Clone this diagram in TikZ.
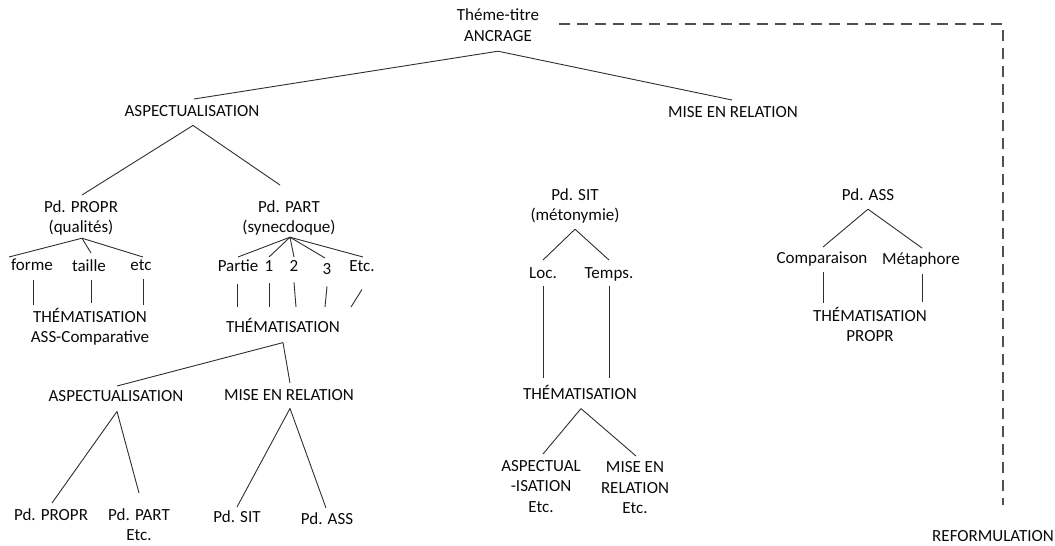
\documentclass[tikz,border=0pt]{standalone}
\usepackage{fontspec}
\setmainfont{Carlito}
\usetikzlibrary{calc}
\definecolor{txtc}{HTML}{0A0A0A}
\definecolor{linec}{HTML}{2E2E2E}
\definecolor{dashc}{HTML}{505050}
\newcommand\st{\rule[-4pt]{0pt}{15pt}}
\tikzset{
  lbl/.style={anchor=north, inner sep=0pt, align=center,
    font=\fontsize{17}{20.5}\selectfont, text=txtc},
  conn/.style={draw=linec, line width=0.9pt},
  dashline/.style={draw=dashc, line width=2.8pt, dash pattern=on 11.5pt off 6.5pt}
}
\begin{document}
\begin{tikzpicture}[x=1pt,y=-1pt]
\useasboundingbox (0,0) rectangle (1055,546);

% ---- nodes (placed by top of first line) ----
\node[lbl] (root)  at (498,8.5)  {\st Théme-titre\\\st ANCRAGE};
\node[lbl] (asp)   at (192,105)  {\st ASPECTUALISATION};
\node[lbl] (mer)   at (733,106)  {\st MISE EN RELATION};

\node[lbl] (propr) at (81,200)   {\st Pd. PROPR\\\st (qualités)};
\node[lbl] (part)  at (289,200)  {\st Pd. PART\\\st (synecdoque)};

\node[lbl] (forme) at (32,259)   {\st forme};
\node[lbl] (taille) at (89,259)  {\st taille};
\node[lbl] (etc)   at (141,259)  {\st etc};

\node[lbl] (partie) at (238,260) {\st Partie};
\node[lbl] (n1)    at (269,260)  {\st 1};
\node[lbl] (n2)    at (294,260)  {\st 2};
\node[lbl] (n3)    at (327,263)  {\st 3};
\node[lbl] (etcp)  at (362,260)  {\st Etc.};

\node[lbl] (them1) at (90,308)   {\st THÉMATISATION\\\st ASS-Comparative};
\node[lbl] (them2) at (283,318.5){\st THÉMATISATION};

\node[lbl] (asp2)  at (116,390)  {\st ASPECTUALISATION};
\node[lbl] (mer2)  at (289,389)  {\st MISE EN RELATION};

\node[lbl] (pp)    at (51,508)   {\st Pd. PROPR};
\node[lbl] (ppart) at (139,508)  {\st Pd. PART\\\st Etc.};
\node[lbl] (psit)  at (237,510)  {\st Pd. SIT};
\node[lbl] (pass)  at (327,512)  {\st Pd. ASS};

\node[lbl] (sit)   at (575,188)  {\st Pd. SIT\\\st (métonymie)};
\node[lbl] (loc)   at (543,267)  {\st Loc.};
\node[lbl] (temps) at (609,267)  {\st Temps.};
\node[lbl] (them3) at (580,385)  {\st THÉMATISATION};
\node[lbl] (aspi)  at (541,460)  {\st ASPECTUAL\\\st -ISATION\\\st Etc.};
\node[lbl] (meri)  at (635,461.5){\st MISE EN\\\st RELATION\\\st Etc.};

\node[lbl] (ass)   at (868,188)  {\st Pd. ASS};
\node[lbl] (comp)  at (822,252)  {\st Comparaison};
\node[lbl] (meta)  at (921,252)  {\st Métaphore};
\node[lbl] (them4) at (870,307)  {\st THÉMATISATION\\\st PROPR};

\node[lbl] (reform) at (993,530) {\st REFORMULATION};

% ---- connectors ----
\draw[conn] ($(root.south)+(0,6)$) -- ($(asp.north)+(2,-6)$);
\draw[conn] ($(root.south)+(0,6)$) -- ($(mer.north)+(-1,-6)$);

\draw[conn] ($(asp.south)+(1,5)$) -- ($(propr.north)+(1,-5)$);
\draw[conn] ($(asp.south)+(1,5)$) -- ($(part.north)+(-9,-15)$);

\draw[conn] ($(propr.south)+(1,1.5)$) -- ($(forme.north)+(-23,-2)$);
\draw[conn] ($(propr.south)+(1,1.5)$) -- ($(taille.north)+(2,-6)$);
\draw[conn] ($(propr.south)+(1,1.5)$) -- ($(etc.north)+(2,-2)$);

\draw[conn] ($(forme.south)+(1,5)$)  -- ($(them1.north)+(-57,-3)$);
\draw[conn] ($(taille.south)+(2,5)$) -- ($(them1.north)+(1,-5)$);
\draw[conn] ($(etc.south)+(2,5)$)    -- ($(them1.north)+(53,-3)$);

\draw[conn] ($(part.south)+(1,0.5)$) -- ($(partie.north)+(0,-3)$);
\draw[conn] ($(part.south)+(1,0.5)$) -- ($(n1.north)+(0,-3)$);
\draw[conn] ($(part.south)+(1,0.5)$) -- ($(n2.north)+(0,-3)$);
\draw[conn] ($(part.south)+(1,0.5)$) -- ($(n3.north)+(-2,-5)$);
\draw[conn] ($(part.south)+(1,0.5)$) -- ($(etcp.north)+(1,-3)$);

\draw[conn] ($(partie.south)+(-1,8)$) -- ($(them2.north)+(-46,-11.5)$);
\draw[conn] ($(n1.south)+(0,8)$)      -- ($(them2.north)+(-14,-11.5)$);
\draw[conn] ($(n2.south)+(0,7)$)      -- ($(them2.north)+(13,-11.5)$);
\draw[conn] ($(n3.south)+(0,8)$)      -- ($(them2.north)+(42,-11.5)$);
\draw[conn] ($(etcp.south)+(0,14)$)   -- ($(them2.north)+(68,-11.5)$);

\draw[conn] ($(them2.south)+(0,5.5)$) -- ($(asp2.north)+(1,-4)$);
\draw[conn] ($(them2.south)+(0,5.5)$) -- ($(mer2.north)+(1,-6)$);

\draw[conn] ($(asp2.south)+(1,6)$) -- ($(pp.north)+(1,-5)$);
\draw[conn] ($(asp2.south)+(1,6)$) -- ($(ppart.north)+(0,-15)$);
\draw[conn] ($(mer2.south)+(1,4)$) -- ($(psit.north)+(0,-3)$);
\draw[conn] ($(mer2.south)+(1,4)$) -- ($(pass.north)+(-1,-4)$);

\draw[conn] ($(sit.south)+(0,4.5)$) -- ($(loc.north)+(0,-7)$);
\draw[conn] ($(sit.south)+(0,4.5)$) -- ($(temps.north)+(0,-7)$);
\draw[conn] ($(loc.south)+(0,4)$)   -- ($(them3.north)+(-37,-7)$);
\draw[conn] ($(temps.south)+(0,4)$) -- ($(them3.north)+(29,-7)$);
\draw[conn] ($(them3.south)+(1,5)$) -- ($(aspi.north)+(2,-6)$);
\draw[conn] ($(them3.south)+(1,5)$) -- ($(meri.north)+(1,-5.5)$);

\draw[conn] ($(ass.south)+(0,5)$)  -- ($(comp.north)+(1,-5)$);
\draw[conn] ($(ass.south)+(0,5)$)  -- ($(meta.north)+(1,-4)$);
\draw[conn] ($(comp.south)+(1,4)$) -- ($(them4.north)+(-47,-4)$);
\draw[conn] ($(meta.south)+(1,6)$) -- ($(them4.north)+(52,-5)$);

% ---- dashed reformulation loop ----
\coordinate (dstart) at ($(root.north east)+(19.5,15.5)$);
\coordinate (dend)   at ($(reform.north)+(10,-25)$);
\draw[dashline] (dstart) -| (dend);
\end{tikzpicture}
\end{document}
